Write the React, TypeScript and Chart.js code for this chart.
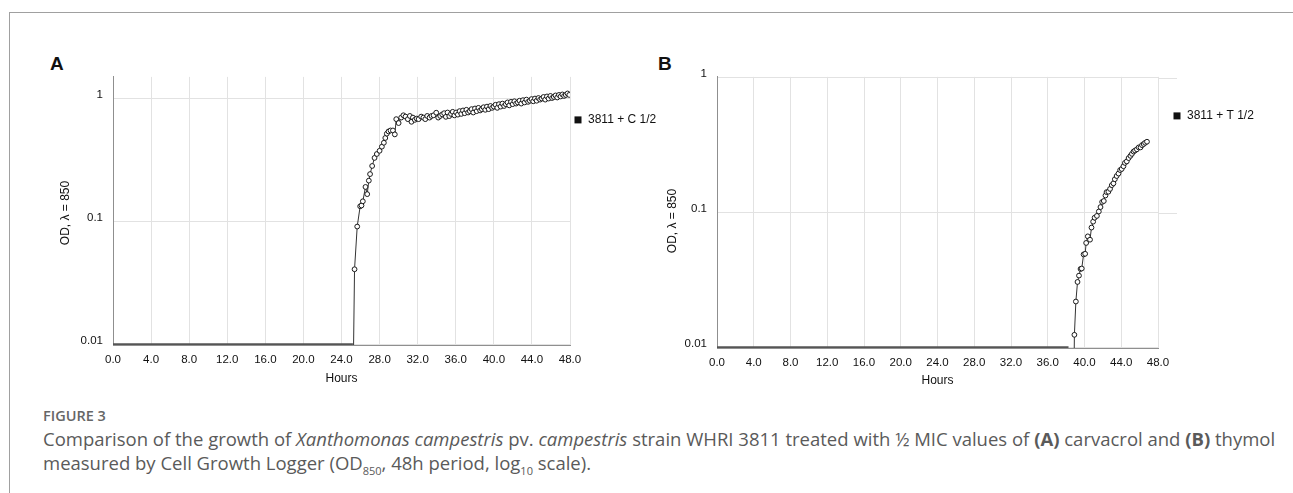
import React, { useEffect, useRef } from 'react';
import { Chart, registerables } from 'chart.js';

Chart.register(...registerables);

// ---------- data ----------
const xTickHours = [0, 4, 8, 12, 16, 20, 24, 28, 32, 36, 40, 44, 48];
const yTickValues = [0.01, 0.1, 1];
const xAxisTitle = 'Hours';
const yAxisTitle = 'OD, λ = 850';

const seriesLabelA = '3811 + C 1/2';
const baselineHoursA = [0, 25.2];
const baselineOdA = [0.01, 0.01];
const growthHoursA = [
  25.22, 25.37, 25.65, 25.96, 26.1, 26.24, 26.52, 26.7, 26.87, 27.0, 27.22, 27.47, 27.71, 28.0,
  28.24, 28.45, 28.6, 28.76, 28.94, 29.15, 29.4, 29.6, 29.75, 30.0, 30.27, 30.5, 30.72, 30.97,
  31.18, 31.35, 31.5, 31.7, 31.9, 32.1, 32.37, 32.6, 32.8, 33.0, 33.25, 33.45, 33.67, 33.95,
  34.16, 34.37, 34.58, 34.78, 34.96, 35.14, 35.32, 35.5, 35.68, 35.86, 36.04, 36.22, 36.4,
  36.58, 36.76, 36.94, 37.12, 37.3, 37.48, 37.66, 37.84, 38.02, 38.2, 38.38, 38.56, 38.74,
  38.92, 39.1, 39.28, 39.46, 39.64, 39.82, 40.0, 40.18, 40.36, 40.54, 40.72, 40.9, 41.08,
  41.26, 41.44, 41.62, 41.8, 41.98, 42.16, 42.34, 42.52, 42.7, 42.88, 43.06, 43.24, 43.42,
  43.6, 43.78, 43.96, 44.14, 44.32, 44.5, 44.68, 44.86, 45.04, 45.22, 45.4, 45.58, 45.76,
  45.94, 46.12, 46.3, 46.48, 46.66, 46.84, 47.02, 47.2, 47.38, 47.56, 47.74, 47.92,
];
const growthOdA = [
  0.005, 0.0409, 0.091, 0.133, 0.135, 0.146, 0.191, 0.167, 0.215, 0.243, 0.283, 0.329, 0.354, 0.376,
  0.406, 0.437, 0.478, 0.518, 0.54, 0.55, 0.55, 0.511, 0.68, 0.632, 0.7, 0.731, 0.713, 0.68,
  0.722, 0.647, 0.7, 0.671, 0.687, 0.68, 0.713, 0.7, 0.68, 0.722, 0.7, 0.722, 0.731, 0.767,
  0.7, 0.722, 0.743, 0.76, 0.71, 0.77, 0.72, 0.75, 0.78, 0.73, 0.77, 0.74, 0.79,
  0.75, 0.8, 0.76, 0.81, 0.77, 0.79, 0.82, 0.77, 0.83, 0.79, 0.84, 0.8, 0.82,
  0.85, 0.81, 0.86, 0.82, 0.87, 0.84, 0.86, 0.89, 0.84, 0.9, 0.86, 0.91, 0.87,
  0.9, 0.93, 0.88, 0.94, 0.9, 0.95, 0.91, 0.93, 0.96, 0.91, 0.97, 0.93, 0.98,
  0.94, 0.96, 0.99, 0.95, 1.0, 0.96, 1.01, 0.98, 1.0, 1.03, 0.98, 1.04, 1.0,
  1.05, 1.01, 1.03, 1.06, 1.02, 1.07, 1.04, 1.08, 1.05, 1.07, 1.1, 1.07,
];

const seriesLabelB = '3811 + T 1/2';
const baselineHoursB = [0, 38.26];
const baselineOdB = [0.01, 0.01];
const growthHoursB = [
  38.84, 38.9, 39.06, 39.24, 39.4, 39.57, 39.7, 39.9, 40.07, 40.18, 40.36, 40.6, 40.76, 40.94,
  41.1, 41.35, 41.56, 41.74, 41.92, 42.1, 42.28, 42.4, 42.6, 42.78, 42.97, 43.15, 43.3, 43.5,
  43.7, 43.88, 44.05, 44.24, 44.4, 44.6, 44.8, 45.0, 45.16, 45.34, 45.5, 45.7, 45.9, 46.1,
  46.26, 46.44, 46.6, 46.8,
];
const growthOdB = [
  0.005, 0.0124, 0.0219, 0.0306, 0.0341, 0.0382, 0.0385, 0.049, 0.0495, 0.0596, 0.0667, 0.063,
  0.0775, 0.0857, 0.0917, 0.0946, 0.102, 0.11, 0.12, 0.122, 0.134, 0.142, 0.143, 0.15, 0.16,
  0.165, 0.177, 0.187, 0.195, 0.207, 0.211, 0.221, 0.234, 0.24, 0.254, 0.264, 0.273, 0.284,
  0.289, 0.295, 0.305, 0.305, 0.317, 0.323, 0.33, 0.336,
];

// ---------- styling / layout ----------
const FONT = '"Liberation Sans", Arial, Helvetica, sans-serif';
const GRID = '#e2e2e2';
const AXIS = '#8f8f8f';
const TEXT = '#111';

type PanelProps = {
  left: number; top: number; width: number; height: number;
  padTop: number; padRight: number; yWidth: number; xHeight: number;
  yMin: number; yMax: number;
  legendDx: number; legendDy: number; label: string;
  yTitleX: number; yTitleY: number; extendGrid: number;
  baseH: number[]; baseV: number[]; growH: number[]; growV: number[];
};

function Panel(p: PanelProps) {
  const ref = useRef<HTMLCanvasElement | null>(null);
  useEffect(() => {
    if (!ref.current) return;
    const overlay = {
      id: 'overlay',
      afterDraw(chart: any) {
        const { ctx, chartArea, scales } = chart;
        ctx.save();
        if (p.extendGrid > 0) {
          ctx.strokeStyle = GRID;
          ctx.lineWidth = 1;
          [0.1, 1].forEach((v) => {
            const y = Math.round(scales.y.getPixelForValue(v)) + 0.5;
            ctx.beginPath();
            ctx.moveTo(chartArea.right, y);
            ctx.lineTo(chartArea.right + p.extendGrid, y);
            ctx.stroke();
          });
        }
        const lx = chartArea.right + p.legendDx;
        const ly = chartArea.top + p.legendDy;
        ctx.fillStyle = '#111';
        ctx.fillRect(lx - 3.5, ly - 3.5, 7, 7);
        ctx.font = `12px ${FONT}`;
        ctx.fillStyle = TEXT;
        ctx.textBaseline = 'middle';
        ctx.textAlign = 'left';
        ctx.fillText(p.label, lx + 10, ly);
        ctx.translate(p.yTitleX, p.yTitleY);
        ctx.rotate(-Math.PI / 2);
        ctx.textAlign = 'center';
        ctx.fillText(yAxisTitle, 0, 0);
        ctx.restore();
      },
    };
    const chart = new Chart(ref.current, {
      type: 'line',
      data: {
        datasets: [
          {
            label: 'baseline',
            data: p.baseH.map((h, i) => ({ x: h, y: p.baseV[i] })),
            borderColor: '#555',
            borderWidth: 2.2,
            pointRadius: 0,
          },
          {
            label: p.label,
            data: p.growH.map((h, i) => ({ x: h, y: p.growV[i] })),
            borderColor: '#333',
            borderWidth: 1,
            pointRadius: 2.4,
            pointBorderWidth: 1,
            pointBorderColor: '#1a1a1a',
            pointBackgroundColor: '#fff',
          },
        ],
      },
      options: {
        animation: false,
        responsive: false,
        layout: { padding: { top: p.padTop, right: p.padRight, left: 0, bottom: 0 } },
        plugins: { legend: { display: false }, tooltip: { enabled: false } },
        scales: {
          x: {
            type: 'linear',
            min: 0,
            max: 48,
            afterBuildTicks: (s: any) => { s.ticks = xTickHours.map((v) => ({ value: v })); },
            afterFit: (s: any) => { s.height = p.xHeight; },
            ticks: {
              autoSkip: false, maxRotation: 0, padding: 8, color: TEXT,
              font: { family: FONT, size: 11.5 },
              callback: (v: any) => Number(v).toFixed(1),
            },
            grid: { color: GRID, drawTicks: false },
            border: { color: AXIS },
            title: { display: true, text: xAxisTitle, color: TEXT, font: { family: FONT, size: 12 }, padding: { top: 4, bottom: 4 } },
          },
          y: {
            type: 'logarithmic',
            min: p.yMin,
            max: p.yMax,
            afterBuildTicks: (s: any) => { s.ticks = yTickValues.map((v) => ({ value: v })); },
            afterFit: (s: any) => { s.width = p.yWidth; },
            ticks: {
              padding: 10, color: TEXT, labelOffset: -4,
              font: { family: FONT, size: 11.5 },
              callback: (v: any) => String(v),
            },
            grid: { color: GRID, drawTicks: false },
            border: { color: AXIS },
          },
        },
      },
      plugins: [overlay],
    } as any);
    return () => chart.destroy();
  }, []);
  return (
    <canvas
      ref={ref}
      width={p.width}
      height={p.height}
      style={{ position: 'absolute', left: p.left, top: p.top, width: p.width, height: p.height }}
    />
  );
}

export default function App() {
  return (
    <div style={{ position: 'absolute', left: 0, top: 0, width: 1293, height: 493, overflow: 'hidden', background: '#fff' }}>
      <div style={{ position: 'absolute', left: 9, top: 12, width: 1300, height: 500, borderTop: '1px solid #a0a0a0', borderLeft: '1px solid #a0a0a0' }} />
      <div style={{ position: 'absolute', left: 50, top: 53, font: `bold 19px ${FONT}`, color: '#111' }}>A</div>
      <div style={{ position: 'absolute', left: 658, top: 53, font: `bold 19px ${FONT}`, color: '#111' }}>B</div>
      <Panel
        left={50} top={60} width={610} height={330}
        padTop={9} padRight={90} yWidth={63} xHeight={45}
        yMin={0.0099} yMax={1.5}
        legendDx={8} legendDy={43} label={seriesLabelA}
        yTitleX={16} yTitleY={153} extendGrid={0}
        baseH={baselineHoursA} baseV={baselineOdA} growH={growthHoursA} growV={growthOdA}
      />
      <Panel
        left={662} top={60} width={628} height={332}
        padTop={12} padRight={132} yWidth={55} xHeight={44}
        yMin={0.0099} yMax={1.017}
        legendDx={19} legendDy={39} label={seriesLabelB}
        yTitleX={11} yTitleY={161} extendGrid={19}
        baseH={baselineHoursB} baseV={baselineOdB} growH={growthHoursB} growV={growthOdB}
      />
      <div style={{ position: 'absolute', left: 43, top: 406, font: '600 14.5px "Open Sans", sans-serif', color: '#666' }}>FIGURE 3</div>
      <div style={{ position: 'absolute', left: 43, top: 427, font: '18.5px "Open Sans", sans-serif', color: '#5a5a5a', lineHeight: '24px', whiteSpace: 'nowrap' }}>
        Comparison of the growth of <i>Xanthomonas campestris</i> pv. <i>campestris</i> strain WHRI 3811 treated with ½ MIC values of <b>(A)</b> carvacrol and <b>(B)</b> thymol
        <br />
        measured by Cell Growth Logger (OD<sub style={{ fontSize: 11, lineHeight: 0 }}>850</sub>, 48h period, log<sub style={{ fontSize: 11, lineHeight: 0 }}>10</sub> scale).
      </div>
    </div>
  );
}
